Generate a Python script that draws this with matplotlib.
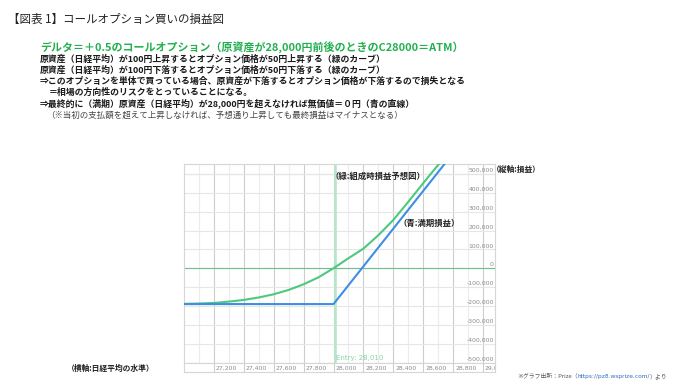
import matplotlib
matplotlib.use("Agg")
import matplotlib.pyplot as plt
from matplotlib.transforms import blended_transform_factory, offset_copy

plt.rcParams['font.family'] = ['Noto Sans CJK JP', 'DejaVu Sans']

# --- data ---
# underlying price (Nikkei) and P/L of the call at inception (green curve)
price = [27000, 27100, 27200, 27300, 27400, 27500, 27600, 27700, 27800,
         27900, 28000, 28100, 28200, 28300, 28400, 28500, 28600, 28700, 28800]
pl_now = [-189000, -187000, -184000, -177000, -168000, -155000, -138000,
          -115000, -85000, -48000, 0, 53000, 104000, 175000, 256000,
          352000, 451000, 548000, 645000]

# P/L at expiry (blue line): breakpoints
exp_price = [27000, 28000, 28800]
pl_exp = [-190000, -190000, 610000]

entry = 28010

x_major = [27200, 27400, 27600, 27800, 28000, 28200, 28400, 28600, 28800, 29000]
x_minor = [27100, 27300, 27500, 27700, 27900, 28100, 28300, 28500, 28700, 28900]
x_labels = ['27,200', '27,400', '27,600', '27,800', '28,000', '28,200',
            '28,400', '28,600', '28,800', '29,000']
y_ticks = [500000, 400000, 300000, 200000, 100000, 0,
           -100000, -200000, -300000, -400000, -500000]
y_labels = ['500,000', '400,000', '300,000', '200,000', '100,000', '0',
            '-100,000', '-200,000', '-300,000', '-400,000', '-500,000']

W, H = 697, 390
fig = plt.figure(figsize=(W / 100, H / 100), dpi=100)


def fx(px):
    return px / W


def fy(py):
    return 1 - py / H


# main chart
L, R, T, B = 184, 495, 164.3, 363.3
ax = fig.add_axes([fx(L), fy(B), fx(R - L), (B - T) / H])
ax.set_xlim(27000, 29080)
ax.set_ylim(-504000, 551000)

ax.set_xticks(x_major)
ax.set_xticks(x_minor, minor=True)
ax.set_yticks(y_ticks)
ax.tick_params(which='both', length=0, labelbottom=False, labelleft=False)
ax.grid(which='major', axis='x', color='#cdcdcd', lw=0.8)
ax.grid(which='minor', axis='x', color='#ececec', lw=0.8)
ax.grid(which='major', axis='y', color='#e6e6e6', lw=0.8)
ax.set_axisbelow(True)
for s in ax.spines.values():
    s.set_color('#d6d6d6')
    s.set_linewidth(0.8)

ax.axhline(500000, color='#d2d2d2', lw=0.8, zorder=0.5)
ax.axvline(entry, color='#b8e6c8', lw=1.9, zorder=1)
ax.axhline(0, color='#6cbf8e', lw=0.8, zorder=1.5)

ax.plot(price, pl_now, color='#4cc97e', lw=1.5, zorder=3)
ax.plot(exp_price, pl_exp, color='#3d8fe4', lw=1.5, zorder=4)

ax.text(entry, -505000, 'Entry: 28,010', color='#86d6a3', fontsize=5,
        family='DejaVu Sans', ha='left', va='bottom',
        transform=offset_copy(ax.transData, fig=fig, x=1.2, y=2.5, units='dots'))

ylab_tr = offset_copy(blended_transform_factory(ax.transAxes, ax.transData),
                      fig=fig, x=-1, y=1, units='dots')
for v, lab in zip(y_ticks, y_labels):
    ax.text(1.0, v, lab, transform=ylab_tr, ha='right', va='bottom',
            fontsize=4.4, color='#8a8a8a', family='DejaVu Sans')

# x label strip under the plot
strip = fig.add_axes([fx(L), fy(372), fx(R - L), (372 - B) / H])
strip.set_xlim(ax.get_xlim())
strip.set_ylim(0, 1)
strip.set_xticks(x_major)
strip.set_yticks([])
strip.tick_params(length=0, labelbottom=False)
strip.grid(axis='x', color='#cdcdcd', lw=0.8)
for s in strip.spines.values():
    s.set_color('#d6d6d6')
    s.set_linewidth(0.8)
lab_tr = offset_copy(strip.transData, fig=fig, x=2, y=0, units='dots')
for t, lab in zip(x_major, x_labels):
    strip.text(t, 0.45, lab, transform=lab_tr, ha='left', va='center',
               fontsize=4.4, color='#8a8a8a', family='DejaVu Sans', clip_on=True)

# annotations inside the chart
fig.text(fx(331), fy(176.7), '（緑:組成時損益予想図）', fontsize=6, weight='bold',
         color='#222222', va='center', ha='left')
fig.text(fx(398), fy(223.3), '（青:満期損益）', fontsize=6, weight='bold',
         color='#222222', va='center', ha='left')

# texts around the chart
fig.text(fx(8), fy(19), '【図表 1】コールオプション買いの損益図', fontsize=8.3,
         color='#222222', va='center')
fig.text(fx(40), fy(47.5),
         'デルタ＝＋0.5のコールオプション（原資産が28,000円前後のときのC28000＝ATM）',
         fontsize=7.9, weight='bold', color='#22b04f', va='center')
body = [
    (40, 59, '原資産（日経平均）が100円上昇するとオプション価格が50円上昇する（緑のカーブ）'),
    (40, 70, '原資産（日経平均）が100円下落するとオプション価格が50円下落する（緑のカーブ）'),
    (40, 81.5, '⇒このオプションを単体で買っている場合、原資産が下落するとオプション価格が下落するので損失となる'),
    (49, 92.7, '＝相場の方向性のリスクをとっていることになる。'),
    (40, 104, '⇒最終的に（満期）原資産（日経平均）が28,000円を超えなければ無価値＝０円（青の直線）'),
]
for x, y, s in body:
    fig.text(fx(x), fy(y), s, fontsize=6.4, weight='bold', color='#1a1a1a', va='center')
fig.text(fx(46), fy(115.3),
         '（※当初の支払額を超えて上昇しなければ、予想通り上昇しても最終損益はマイナスとなる）',
         fontsize=6.1, color='#444444', va='center')

fig.text(fx(492), fy(169.5), '（縦軸:損益）', fontsize=5.6, weight='bold',
         color='#222222', va='center')
fig.text(fx(67), fy(368), '（横軸:日経平均の水準）', fontsize=5.6, weight='bold',
         color='#222222', va='center')

src = fig.text(fx(517), fy(376), '※グラフ出所：Prize（', fontsize=4.2,
               color='#555555', va='center')
url = ax.annotate('https://pz8.wsprize.com/', xy=(1, 0), xycoords=src,
                  va='bottom', ha='left', fontsize=4.2, color='#2f6fc0',
                  family='DejaVu Sans', annotation_clip=False)
ax.annotate('）より', xy=(1, 0), xycoords=url, va='bottom', ha='left',
            fontsize=4.2, color='#555555', annotation_clip=False)

fig.savefig('out.png', dpi=100)
